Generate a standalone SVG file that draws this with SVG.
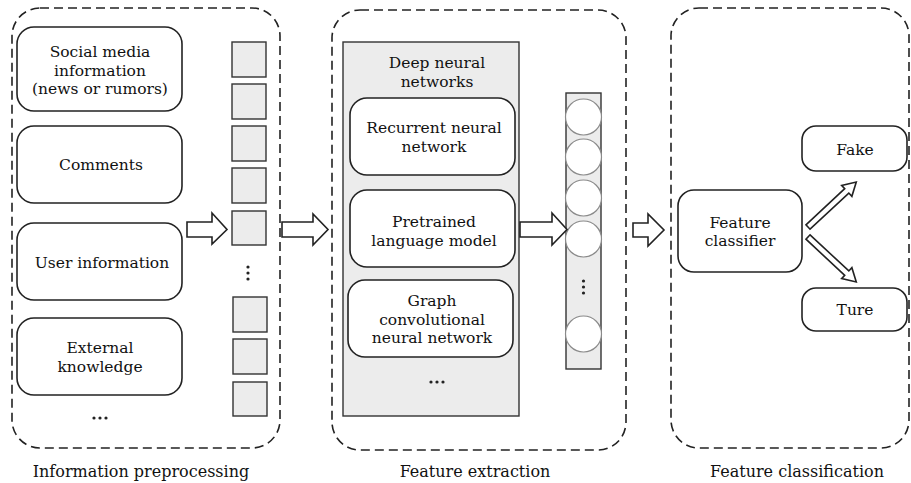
<svg xmlns="http://www.w3.org/2000/svg" width="911" height="483" viewBox="0 0 911 483">
<style>
text{font-family:"DejaVu Serif","Liberation Serif",serif;font-size:15.5px;fill:#111;text-anchor:middle}
text.cap{font-size:16px}
.panel{fill:none;stroke:#222;stroke-width:1.6;stroke-dasharray:9 5}
.node{fill:#fff;stroke:#222;stroke-width:1.6}
.sq{fill:#ececec;stroke:#333;stroke-width:1.4}
.gray{fill:#ececec;stroke:#333;stroke-width:1.4}
.circ{fill:#fff;stroke:#8a8a8a;stroke-width:1.2}
.arr{fill:#fff;stroke:#222;stroke-width:1.6;stroke-linejoin:miter}
.dot{fill:#222}
</style>
<rect width="911" height="483" fill="#fff"/>

<g id="panel-preprocessing">
<rect class="panel" x="12" y="8" width="268" height="440" rx="28"/>
<text class="cap" x="141" y="477">Information preprocessing</text>
</g>
<g id="panel-extraction">
<rect class="panel" x="332" y="10" width="294" height="440" rx="28"/>
<text class="cap" x="475" y="477">Feature extraction</text>
</g>
<g id="panel-classification">
<rect class="panel" x="671" y="8" width="238" height="440" rx="28"/>
<text class="cap" x="797" y="477">Feature classification</text>
</g>

<g id="social-media">
<rect class="node" x="17" y="27" width="165" height="84" rx="17"/>
<text x="100" y="57">Social media</text>
<text x="100" y="75.5">information</text>
<text x="100" y="94">(news or rumors)</text>
</g>
<g id="comments">
<rect class="node" x="17" y="126" width="165" height="77" rx="17"/>
<text x="101" y="170">Comments</text>
</g>
<g id="user-information">
<rect class="node" x="17" y="223" width="165" height="77" rx="17"/>
<text x="102" y="268">User information</text>
</g>
<g id="external-knowledge">
<rect class="node" x="17" y="318" width="165" height="77" rx="17"/>
<text x="100" y="353">External</text>
<text x="100" y="371.5">knowledge</text>
</g>
<g id="inputs-more">
<circle class="dot" cx="94" cy="418" r="1.6"/><circle class="dot" cx="100" cy="418" r="1.6"/><circle class="dot" cx="106" cy="418" r="1.6"/>
</g>

<g id="embedding-vector">
<rect class="sq" x="232" y="42" width="34" height="35"/>
<rect class="sq" x="232" y="84" width="34" height="35"/>
<rect class="sq" x="232" y="126" width="34" height="35"/>
<rect class="sq" x="232" y="168" width="34" height="35"/>
<rect class="sq" x="232" y="211" width="34" height="34"/>
<circle class="dot" cx="248" cy="267" r="1.6"/><circle class="dot" cx="248" cy="273" r="1.6"/><circle class="dot" cx="248" cy="279" r="1.6"/>
<rect class="sq" x="233" y="297" width="34" height="35"/>
<rect class="sq" x="233" y="339" width="34" height="35"/>
<rect class="sq" x="233" y="382" width="34" height="34"/>
</g>

<g id="deep-neural-networks">
<rect class="gray" x="343" y="42" width="176" height="374"/>
<text x="437" y="68">Deep neural</text>
<text x="437" y="87">networks</text>
</g>
<g id="rnn">
<rect class="node" x="350" y="98" width="165" height="77" rx="17"/>
<text x="434" y="133">Recurrent neural</text>
<text x="434" y="152">network</text>
</g>
<g id="plm">
<rect class="node" x="350" y="190" width="165" height="77" rx="17"/>
<text x="434" y="227">Pretrained</text>
<text x="434" y="245.5">language model</text>
</g>
<g id="gcn">
<rect class="node" x="348" y="280" width="165" height="77" rx="17"/>
<text x="432" y="306">Graph</text>
<text x="432" y="324.5">convolutional</text>
<text x="432" y="343">neural network</text>
</g>
<g id="dnn-more">
<circle class="dot" cx="431" cy="382" r="1.6"/><circle class="dot" cx="437" cy="382" r="1.6"/><circle class="dot" cx="443" cy="382" r="1.6"/>
</g>

<g id="feature-vector">
<rect class="gray" x="566" y="93" width="35" height="276"/>
<circle class="circ" cx="583.5" cy="117" r="18"/>
<circle class="circ" cx="583.5" cy="157" r="18"/>
<circle class="circ" cx="583.5" cy="198" r="18"/>
<circle class="circ" cx="583.5" cy="239" r="18"/>
<circle class="dot" cx="583.5" cy="281" r="1.6"/><circle class="dot" cx="583.5" cy="287" r="1.6"/><circle class="dot" cx="583.5" cy="293" r="1.6"/>
<circle class="circ" cx="583.5" cy="334" r="18"/>
</g>

<g id="feature-classifier">
<rect class="node" x="678" y="190" width="124" height="82" rx="16"/>
<text x="740" y="228">Feature</text>
<text x="740" y="246">classifier</text>
</g>
<g id="fake">
<rect class="node" x="802" y="126" width="105" height="45" rx="14"/>
<text x="855" y="155">Fake</text>
</g>
<g id="ture">
<rect class="node" x="802" y="288" width="105" height="43" rx="14"/>
<text x="855" y="315">Ture</text>
</g>

<g id="connectors">
<polygon class="arr" points="187,222 212,222 212,213 227,229.5 212,244 212,237 187,237"/>
<polygon class="arr" points="282,222 313,222 313,214 328,229.5 313,245 313,237 282,237"/>
<polygon class="arr" points="520,222 552,222 552,213 567,229.5 552,245 552,237 520,237"/>
<polygon class="arr" points="633,223 648,223 648,214 664,230 648,246 648,237 633,237"/>
<polygon class="arr" transform="translate(808,227) rotate(-43)" points="0,-3 53,-3 53,-7.5 66,0 53,7.5 53,3 0,3"/>
<polygon class="arr" transform="translate(808,237) rotate(43)" points="0,-3 53,-3 53,-7.5 66,0 53,7.5 53,3 0,3"/>
</g>
</svg>
